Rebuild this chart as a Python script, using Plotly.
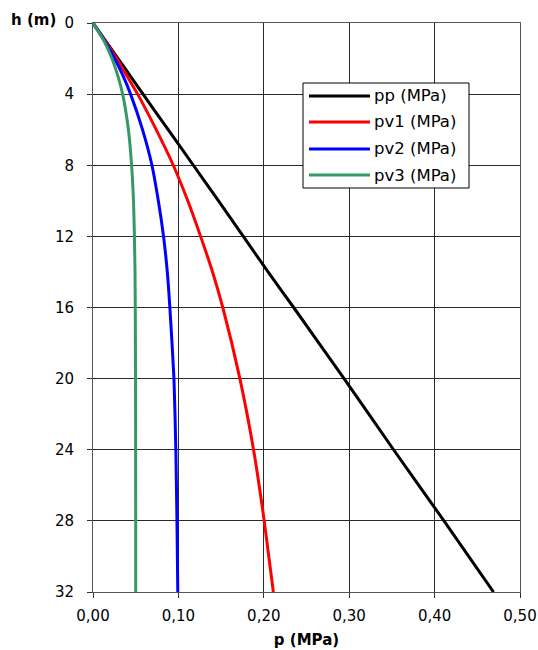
import plotly.graph_objects as go

# depth h (m)
h = [0, 1, 2, 3, 4, 6, 8, 10, 12, 14, 16, 20, 24, 28, 32]
# pressures (MPa)
pp = [0, 0.0147, 0.0293, 0.044, 0.0586, 0.088, 0.1175, 0.147, 0.176, 0.205, 0.235, 0.294, 0.352, 0.411, 0.469]
pv1 = [0, 0.0142, 0.0277, 0.040, 0.0523, 0.074, 0.094, 0.111, 0.126, 0.140, 0.152, 0.172, 0.188, 0.2005, 0.2112]
pv2 = [0, 0.0136, 0.0253, 0.0355, 0.0440, 0.058, 0.069, 0.0765, 0.0826, 0.087, 0.090, 0.0948, 0.097, 0.0983, 0.0993]
pv3 = [0, 0.0128, 0.0222, 0.0293, 0.0347, 0.0415, 0.0452, 0.0474, 0.0485, 0.0492, 0.0495, 0.0498, 0.0499, 0.050, 0.050]

series_names = ["pp (MPa)", "pv1 (MPa)", "pv2 (MPa)", "pv3 (MPa)"]
series_values = [pp, pv1, pv2, pv3]
series_colors = ["#000000", "#FF0000", "#0000FF", "#339966"]

x_tickvals = [0, 0.1, 0.2, 0.3, 0.4, 0.5]
x_ticktext = ["0,00", "0,10", "0,20", "0,30", "0,40", "0,50"]
y_tickvals = [0, 4, 8, 12, 16, 20, 24, 28, 32]

FONT = "DejaVu Sans"
W, H = 538, 650
ML, MR, MT, MB = 93, 18, 23, 58
PW, PH = W - ML - MR, H - MT - MB


def px(xp):
    return (xp - ML) / PW


def py(yp):
    return 1 - (yp - MT) / PH


fig = go.Figure()
for name, vals, col in zip(series_names, series_values, series_colors):
    fig.add_trace(go.Scatter(
        x=vals, y=h, name=name, mode="lines", showlegend=False,
        line=dict(color=col, width=3, shape="spline", smoothing=0.6),
    ))

fig.update_layout(
    width=W, height=H,
    margin=dict(l=ML, r=MR, t=MT, b=MB, autoexpand=False),
    paper_bgcolor="white", plot_bgcolor="white",
    font=dict(family=FONT, size=15, color="black"),
    showlegend=False,
)
fig.update_xaxes(
    range=[0, 0.5], tickvals=x_tickvals, ticktext=x_ticktext,
    showgrid=True, gridcolor="#2a2a2a", gridwidth=1,
    showline=True, linecolor="#555555", linewidth=1, mirror=True,
    ticks="outside", ticklen=5, tickcolor="#333333",
    ticklabelstandoff=5, automargin=False,
    zeroline=False,
    title=dict(text="<b>p (MPa)</b>", font=dict(family=FONT, size=15), standoff=10),
)
fig.update_yaxes(
    range=[32, 0], tickvals=y_tickvals,
    showgrid=True, gridcolor="#2a2a2a", gridwidth=1,
    showline=True, linecolor="#555555", linewidth=1, mirror=True,
    ticks="outside", ticklen=5, tickcolor="#333333",
    ticklabelstandoff=10, automargin=False,
    zeroline=False,
)
fig.add_annotation(
    text="<b>h (m)</b>", xref="paper", yref="paper",
    x=px(58), y=py(20), xanchor="right", yanchor="middle",
    showarrow=False, font=dict(family=FONT, size=15, color="black"),
)

# custom legend box
fig.add_shape(type="rect", xref="paper", yref="paper",
              x0=px(303), x1=px(469), y0=py(188), y1=py(83),
              line=dict(color="black", width=1), fillcolor="white", layer="above")
legend_rows = [96, 122, 149, 175]
for name, col, ry in zip(series_names, series_colors, legend_rows):
    fig.add_shape(type="line", xref="paper", yref="paper",
                  x0=px(309), x1=px(370), y0=py(ry), y1=py(ry),
                  line=dict(color=col, width=3), layer="above")
    fig.add_annotation(text=name, xref="paper", yref="paper",
                       x=px(372), y=py(ry), xanchor="left", yanchor="middle",
                       showarrow=False, font=dict(family=FONT, size=16.5, color="black"))

fig.write_html("out.html", config={"displayModeBar": False},
               post_script="document.body.style.margin='0';")
